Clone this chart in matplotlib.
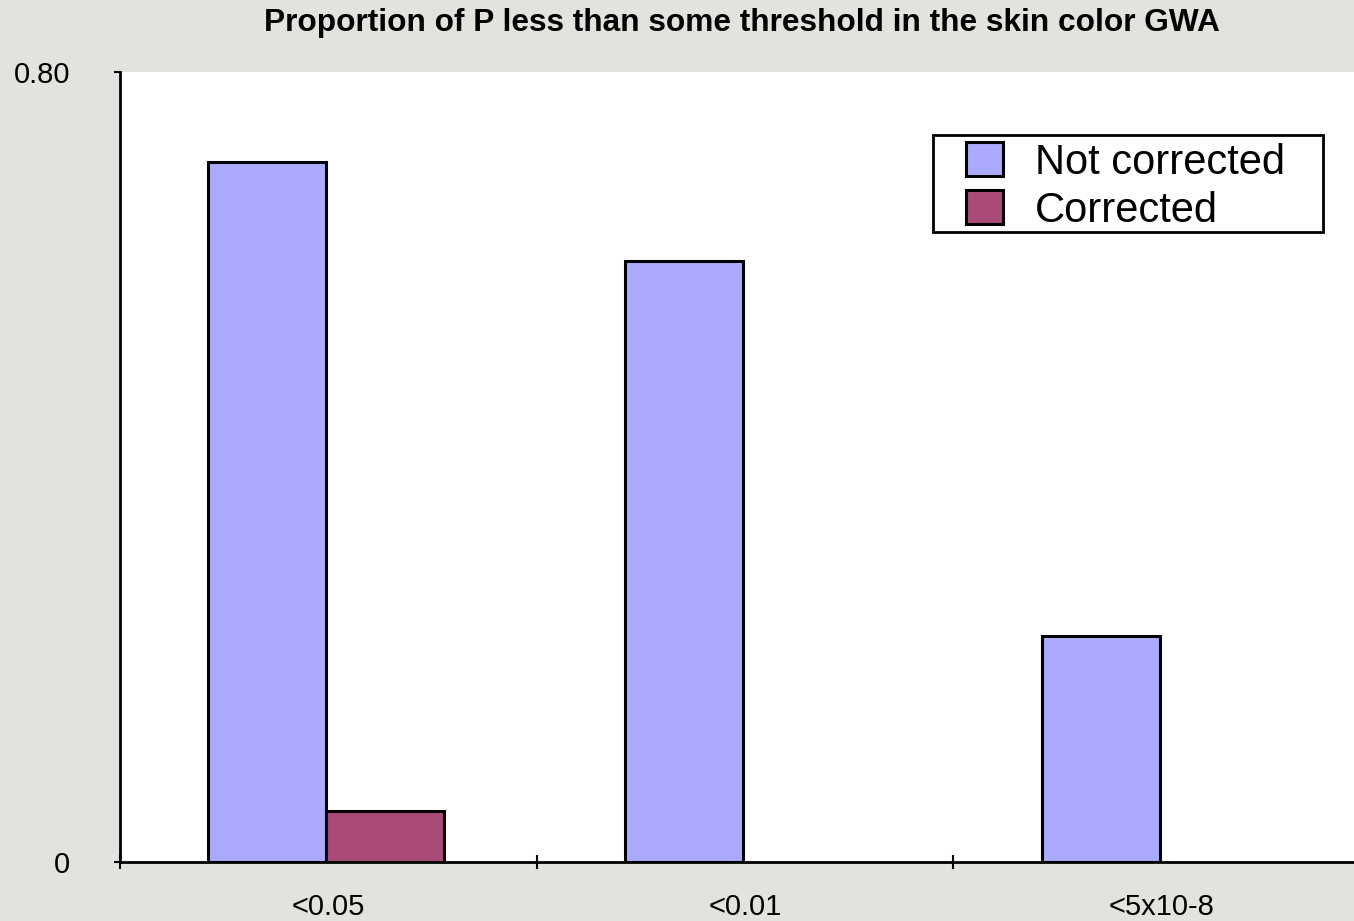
import numpy as np
import matplotlib.pyplot as plt
from matplotlib.patches import Patch, Rectangle

categories = ['<0.05', '<0.01', '<5x10-8']
not_corrected = [0.709, 0.609, 0.229]
corrected = [0.052, 0.0, 0.0]

c_not = '#aaaaff'
c_cor = '#aa4a78'

plt.rcParams['font.family'] = ['Liberation Sans', 'DejaVu Sans']

fig = plt.figure(figsize=(13.54, 9.21), dpi=100)
fig.patch.set_facecolor('#e2e2de')
ax = fig.add_axes([120/1354, 59/921, 1250/1354, 790/921])
ax.set_facecolor('white')

x = np.arange(len(categories))
w = 0.283
shift = -0.005
ax.bar(x + shift - w/2, not_corrected, w, color=c_not, edgecolor='black', linewidth=2.2, zorder=3)
xc = [xi + shift + w/2 for xi, v in zip(x, corrected) if v > 0]
vc = [v for v in corrected if v > 0]
ax.bar(xc, vc, w, color=c_cor, edgecolor='black', linewidth=2.2, zorder=3)

ax.set_yticks([0, 0.8])
ax.set_yticklabels(['0', '0.80'])
ax.tick_params(axis='y', direction='out', length=4, width=1.5, pad=32, labelsize=21)

ax.set_xticks([-0.5, 0.5, 1.5])
ax.set_xticklabels([])
ax.tick_params(axis='x', which='major', direction='inout', length=10, width=1.5)
ax.set_xticks(x, minor=True)
ax.set_xticklabels(categories, minor=True)
ax.tick_params(axis='x', which='minor', length=0, pad=22, labelsize=21)

for s in ['top', 'right']:
    ax.spines[s].set_visible(False)
ax.spines['left'].set_linewidth(2)
ax.spines['bottom'].set_linewidth(2)

fig.text(742/1354, 1 - 23/921, 'Proportion of P less than some threshold in the skin color GWA',
         ha='center', va='center', fontsize=22.8, fontweight='bold')

# legend box drawn by hand (wide side padding)
ax.add_patch(Rectangle((933/1354, 1 - 232/921), 390/1354, 97/921, transform=fig.transFigure,
                       facecolor='white', edgecolor='black', linewidth=2, zorder=4, clip_on=False))
handles = [Patch(facecolor=c_not, edgecolor='black', linewidth=2.2, label='Not corrected'),
           Patch(facecolor=c_cor, edgecolor='black', linewidth=2.2, label='Corrected')]
leg = ax.legend(handles=handles, loc='upper left', bbox_to_anchor=(966/1354, 1 - 142/921),
                bbox_transform=fig.transFigure, borderaxespad=0, borderpad=0, fontsize=30,
                frameon=False, handlelength=0.89, handleheight=0.89,
                handletextpad=0.77, labelspacing=0.18)
leg.set_zorder(5)

ax.set_xlim(-0.5, 2.5)
ax.set_ylim(0, 0.8)

fig.savefig('out.png', dpi=100, facecolor=fig.get_facecolor())
